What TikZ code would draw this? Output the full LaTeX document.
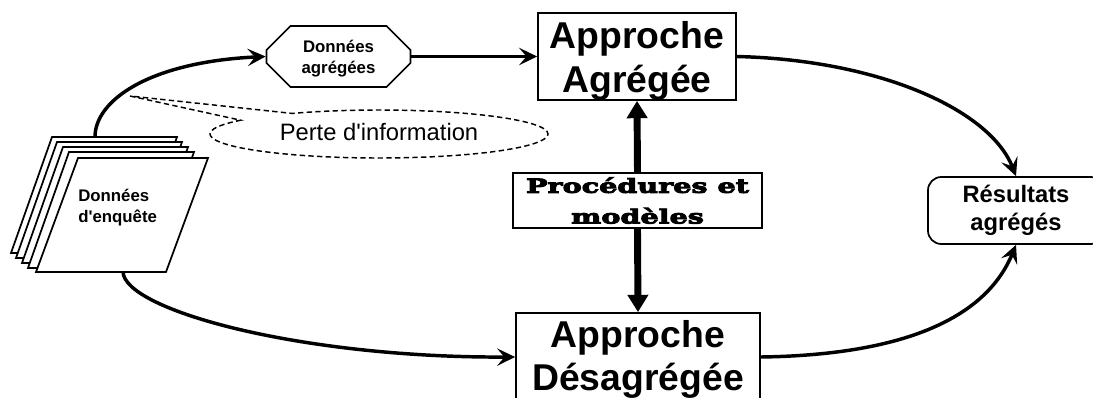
\documentclass[tikz,border=0pt]{standalone}
\usepackage{fontspec}
\setmainfont{Liberation Sans}
\newfontfamily\heavyfont[FakeBold=5,FakeStretch=1.48]{DejaVu Serif}
\usetikzlibrary{arrows.meta}
\usetikzlibrary{shapes.misc}
\usetikzlibrary{shapes.callouts}
\usetikzlibrary{positioning}

\begin{document}
\begin{tikzpicture}[x=0.75pt,y=-0.75pt]
        \tikzstyle{approche}=[draw=black, line width=1.3pt, fill=white, align=center, font=\fontsize{28}{33}\selectfont\bfseries]
        \tikzstyle{donnee}=[align=left, font=\fontsize{12.6}{15.8}\selectfont\bfseries]
        \tikzstyle{octo}=[draw=black, line width=1.3pt, fill=white, align=center, chamfered rectangle, chamfered rectangle xsep=9pt, chamfered rectangle ysep=9pt, font=\fontsize{12.6}{15.8}\selectfont\bfseries]
        \tikzstyle{resultat}=[draw=black, line width=1.3pt, fill=white, rounded corners=10pt, align=center, font=\fontsize{17.8}{21}\selectfont\bfseries]
        \tikzstyle{proc}=[draw=black, line width=1.3pt, fill=white, align=center, font=\fontsize{14.5}{23}\selectfont\heavyfont\bfseries]
        \tikzstyle{perte}=[ellipse callout, draw=black, line width=1.1pt, dash pattern=on 4pt off 2.5pt, inner sep=0pt, font=\fontsize{17.8}{21}\selectfont]
        \tikzstyle{feuille}=[draw=black, line width=1.3pt, fill=white, line join=miter]
        \tikzstyle{flow}=[draw=black, line width=2.6pt, -{Stealth[length=13.5pt,width=13pt,inset=5.5pt]}]
        \tikzstyle{edg}=[draw=black, line width=5.2pt, -{Triangle[length=13pt,width=15pt]}]

        \path[use as bounding box,clip] (0,0) rectangle (1093,397);

        \node (oct) at (338.5,56.5) [octo, minimum width=108pt, minimum height=45.75pt, inner sep=0pt]{Données\\\smash{agrégées}};
        \node (agr) at (637,56.5) [approche, minimum width=148.5pt, minimum height=65.25pt, inner sep=0pt]{Approche\\\smash{Agrégée}};
        \node (des) at (638,357) [approche, font=\fontsize{28}{32}\selectfont\bfseries, minimum width=183pt, minimum height=66pt, inner sep=0pt]{Approche\\\smash{Désagrégée}\rule[-2pt]{0pt}{2pt}};
        \node (pro) at (637.5,200.5) [proc, minimum width=186.75pt, minimum height=41.25pt, inner sep=0pt]{Procédures et\\modèles};
        \node (res) at (1016,210.5) [resultat, minimum width=132pt, minimum height=50.25pt, inner sep=0pt]{Résultats\\agrégés};
        \node (per) at (379,134) [perte, minimum width=253.5pt, minimum height=36pt, callout absolute pointer={(130,96)}, callout pointer arc=24]{\raisebox{3.5pt}{Perte d\textquotesingle information}};

        \coordinate (ht) at (95,137);
        \coordinate (bs) at (123,272);

        \draw[flow] (ht) .. controls (95,100) and (150,62) .. (oct.west);
        \draw[flow] (oct.east)--(agr.west);
        \draw[flow] (bs) .. controls (125,310) and (300,358) .. (des.west);
        \draw[flow] (agr.east) .. controls (880,60) and (990,110) .. (res.north);
        \draw[flow] (des.east) .. controls (900,355) and (985,320) .. (res.south);

        \draw[edg] (pro.north)--(agr.south);
        \draw[edg] (pro.south)--(des.north);

        % feuilles
        \foreach \a/\b in {52/137, 57/142, 63/147, 69/152}{
            \draw[feuille] (\a,\b)--++(125,0)--++(-41,116)--++(-125,0)--cycle;
        }
        \draw[feuille] (78,158)--(208,158)--(166,272)--(36,272)--cycle;
        \node (enq) at (78,207.5) [donnee, anchor=west, inner sep=0pt]{Données\\d\textquotesingle enquête};
\end{tikzpicture}
\end{document}
